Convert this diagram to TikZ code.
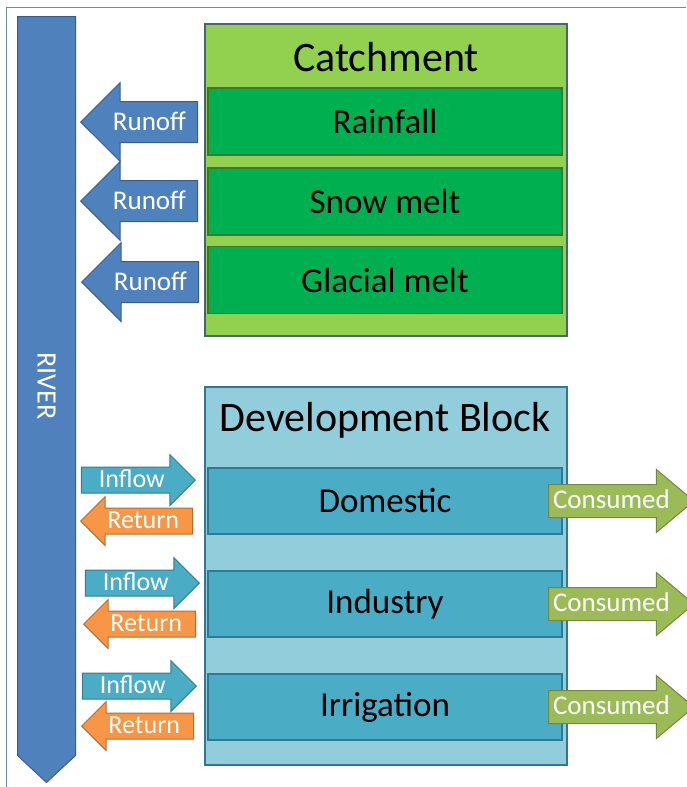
\documentclass[tikz,border=0pt]{standalone}
\usepackage{fontspec}
\setmainfont{Carlito}
\usetikzlibrary{shapes.arrows, positioning}
\definecolor{RiverBlue}{RGB}{79,129,189}
\definecolor{RiverLine}{RGB}{56,93,138}
\definecolor{CatchGreen}{RGB}{146,208,80}
\definecolor{SubGreen}{RGB}{0,176,80}
\definecolor{SubGreenLine}{RGB}{62,118,52}
\definecolor{DevBlue}{RGB}{146,205,220}
\definecolor{DevTeal}{RGB}{75,172,198}
\definecolor{DevLine}{RGB}{49,120,148}
\definecolor{BoxLine}{RGB}{72,98,125}
\definecolor{InflowLine}{RGB}{53,125,145}
\definecolor{ReturnOrange}{RGB}{247,150,70}
\definecolor{ReturnLine}{RGB}{182,109,49}
\definecolor{UseGreen}{RGB}{155,187,89}
\definecolor{UseLine}{RGB}{113,137,63}
\definecolor{FrameGray}{RGB}{110,140,155}

\tikzset{
  block/.style={draw=BoxLine, line width=1.5pt, minimum width=362, minimum height=#1, inner sep=0},
  blocktitle/.style={font=\fontsize{42}{48}\selectfont},
  subbox/.style={line width=1.5pt, minimum width=354, minimum height=#1, inner sep=0, font=\fontsize{35}{40}\selectfont},
  flow/.style={single arrow, line width=1pt, text=white, inner ysep=0, inner xsep=4},
  runoff/.style={flow, shape border rotate=180, anchor=tip, fill=RiverBlue, draw=RiverLine,
    font=\fontsize{27}{30}\selectfont, single arrow head extend=19, minimum height=117,
    text height=28.5, text depth=11.5},
  inflow/.style={flow, anchor=tip, fill=DevTeal, draw=InflowLine,
    font=\fontsize{26}{30}\selectfont, single arrow head extend=12.5, minimum height=114,
    text height=20, text depth=5},
  return/.style={flow, shape border rotate=180, anchor=tip, fill=ReturnOrange, draw=ReturnLine,
    font=\fontsize{26}{30}\selectfont, single arrow head extend=11.5, minimum height=112,
    text height=20, text depth=5},
  consumed/.style={flow, anchor=tail, fill=UseGreen, draw=UseLine,
    font=\fontsize{27}{30}\selectfont, single arrow head extend=15, minimum height=140,
    single arrow tip angle=80, text height=23, text depth=9}
}

\begin{document}
\begin{tikzpicture}[x=1pt, y=-1pt]
\useasboundingbox (0,0) rectangle (686,787);
\draw[FrameGray, line width=1pt] (6,787) -- (6,7) -- (686,7);

\node[single arrow, rotate=-90, anchor=tail, fill=RiverBlue, draw=RiverLine, line width=1pt,
  text=white, font=\fontsize{28}{30}\selectfont, minimum height=766, single arrow head extend=0,
  single arrow tip angle=94, inner ysep=0, text height=37.5, text depth=19.5] (river) at (46.5,16) {RIVER};

\node[block=312, fill=CatchGreen] (catch) at (386,180) {};
\node[blocktitle] (catchT) at (386,57) {Catchment};
\node[subbox=67, fill=SubGreen, draw=SubGreenLine] (rain) at (385,121.5) {Rainfall};
\node[subbox=67, fill=SubGreen, draw=SubGreenLine] (snow) at (385,201.5) {Snow melt};
\node[subbox=67, fill=SubGreen, draw=SubGreenLine] (glacier) at (385,280) {Glacial melt};

\node[runoff] (run1) at (80,122) {Runoff};
\node[runoff] (run2) at (80,201) {Runoff};
\node[runoff] (run3) at (81,282) {Runoff};

\node[block=378, fill=DevBlue, draw=DevLine] (dev) at (386,576) {};
\node[blocktitle] (devT) at (385,420) {Development Block};
\node[subbox=66, fill=DevTeal, draw=DevLine] (dom) at (385,501) {Domestic};
\node[subbox=66, fill=DevTeal, draw=DevLine] (ind) at (385,604) {Industry};
\node[subbox=66, fill=DevTeal, draw=DevLine] (irr) at (385,707) {Irrigation};

\node[inflow] (in1) at (196,480) {Inflow};
\node[return] (ret1) at (80,521) {Return};
\node[inflow] (in2) at (200,583) {Inflow};
\node[return] (ret2) at (83,624) {Return};
\node[inflow] (in3) at (197,686) {Inflow};
\node[return] (ret3) at (81,726) {Return};

\node[consumed] (use1) at (548,501) {Consumed};
\node[consumed] (use2) at (548,604) {Consumed};
\node[consumed] (use3) at (548,707) {Consumed};
\end{tikzpicture}
\end{document}
